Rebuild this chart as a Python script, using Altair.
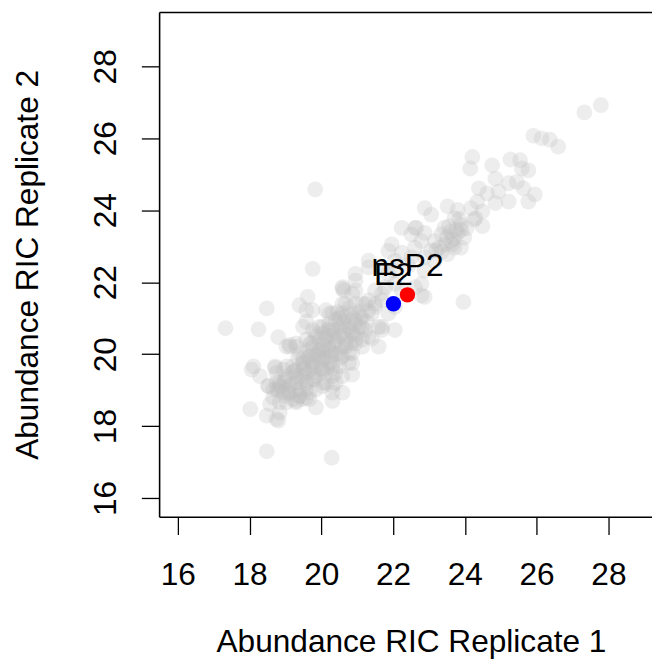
import altair as alt
import pandas as pd

# ---- grey background proteins: (replicate 1, replicate 2) ----
rep1 = [
    # upper right tail
    27.33, 27.79, 25.91, 26.14, 26.37, 26.60, 24.21, 24.15, 24.76, 25.27,
    25.54, 25.59, 25.77, 24.85, 25.22, 25.45, 24.39, 24.62, 24.94, 25.63,
    25.95, 25.77, 25.22, 24.85, 24.49, 24.30, 24.49, 24.35, 24.17, 19.83,
    # arm
    23.52, 23.80, 23.71, 23.89, 23.80, 23.98, 23.61, 23.43, 23.34, 23.16,
    23.29, 23.71, 23.89, 23.52, 23.06, 22.88, 23.16, 22.88, 23.06, 22.65,
    22.88, 22.24, 22.51, 22.79, 22.61, 21.96, 21.87, 22.24, 22.51, 22.42,
    22.05, 21.32, 20.95, 21.69, 22.05, 22.88, 22.79, 22.88, 22.61, 23.96,
    23.60, 23.70, 23.50, 23.90, 24.05, 23.45, 24.26, 22.61,
    23.55, 23.75, 23.65, 23.35, 23.85, 23.20,
    # middle
    21.78, 21.50, 22.05, 22.24, 21.69, 22.05, 21.87, 21.50, 20.59, 20.86,
    19.76, 19.62, 19.39, 19.58, 18.48, 18.25, 17.33, 18.80, 19.03, 19.30,
    # core, first pass
    20.22, 20.40, 20.68, 20.95, 21.14, 20.86, 20.59, 20.31, 20.04, 19.85,
    20.13, 20.40, 20.68, 20.95, 21.14, 20.86, 20.59, 20.31, 20.04, 19.76,
    19.67, 19.94, 20.22, 20.50, 20.77, 19.49, 19.76, 20.04, 20.31, 20.59,
    19.30, 19.49, 19.76, 20.04, 20.31, 19.30, 19.12, 19.58, 19.39, 19.67,
    19.21, 18.94, 18.84, 18.75, 19.03, 18.71, 18.11, 18.06, 18.29, 18.52,
    18.75, 18.66, 18.57, 18.84, 19.03, 19.30, 18.02, 18.48, 18.75, 18.84,
    19.85, 20.31, 20.59, 20.86, 20.31, 18.48, 20.29, 21.32, 20.95, 21.14,
    21.60, 21.69, 22.05, 21.60, 21.32, 20.59, 20.95, 21.32, 21.87, 20.59,
    # core, second pass
    18.84, 19.12, 19.40, 19.67, 19.03, 19.30, 19.58, 19.85, 20.13, 19.21,
    19.49, 19.76, 20.04, 20.31, 19.40, 19.67, 19.95, 20.22, 20.50, 20.77,
    19.58, 19.85, 20.13, 20.40, 20.68, 20.95, 21.14, 19.95, 20.22, 20.50,
    20.77, 21.05, 21.23, 20.31, 20.59, 20.86, 21.14, 21.41, 20.68, 20.95,
    21.23, 21.51, 20.13, 19.76, 19.49, 19.30, 19.12, 18.94, 18.75, 18.66,
    18.94, 19.49, 20.04, 20.40, 20.86,
    # core, third pass
    19.90, 20.08, 20.36, 20.63, 20.91, 20.59, 20.27, 19.72, 19.44, 19.17,
    19.81, 20.45, 20.04, 19.62, 20.17,
    18.98, 19.26, 19.53, 19.81, 20.08, 20.36, 20.63, 20.91, 20.82, 20.54,
    19.99, 19.72, 19.95, 20.22, 20.50, 20.77, 21.05, 21.28, 19.35, 19.07,
    19.40, 19.58, 19.85, 18.80, 20.13,
    # core, fourth pass
    19.00, 19.20, 19.40, 19.50, 19.70, 19.90, 20.00, 20.20, 20.30, 20.50,
    20.60, 20.80, 20.90, 21.00, 20.70, 20.40, 20.10, 19.80, 19.60, 19.30,
    19.10, 18.90, 20.50, 20.20, 21.10, 21.30, 20.00, 19.70, 20.30, 19.50,
    # outer ring
    19.58, 19.76, 18.71, 18.52, 18.80, 19.30, 19.58, 20.40, 21.41, 21.69,
    20.63, 21.69, 22.79, 19.12,
]
rep2 = [
    26.72, 26.92, 26.07, 26.00, 25.96, 25.77, 25.48, 25.16, 25.25, 25.41,
    25.39, 25.16, 25.11, 24.88, 24.75, 24.79, 24.61, 24.47, 24.52, 24.61,
    24.44, 24.24, 24.24, 24.20, 23.97, 23.78, 23.56, 24.24, 24.06, 24.58,
    24.11, 24.01, 23.78, 23.60, 23.37, 23.24, 23.14, 23.51, 23.33, 23.14,
    22.96, 22.96, 22.96, 22.78, 22.87, 22.69, 22.59, 24.06, 23.88, 23.51,
    23.37, 23.51, 23.33, 23.14, 22.96, 23.05, 22.87, 22.82, 22.69, 22.46,
    22.60, 22.60, 22.23, 22.41, 22.32, 22.32, 21.95, 21.59, 21.86, 21.45,
    23.40, 23.20, 23.25, 23.45, 23.50, 23.05, 23.74, 23.51,
    23.55, 23.45, 23.05, 22.85, 23.75, 22.90,
    21.86, 21.77, 21.95, 21.77, 21.50, 21.31, 21.13, 21.31, 21.82, 21.68,
    22.37, 21.59, 21.36, 21.22, 21.27, 20.69, 20.72, 20.47, 20.21, 20.21,
    21.13, 20.95, 21.04, 20.95, 20.76, 20.58, 20.58, 20.67, 20.76, 20.58,
    20.40, 20.31, 20.21, 20.40, 20.21, 20.03, 19.94, 20.03, 20.12, 20.21,
    19.94, 19.85, 19.76, 19.66, 19.76, 19.76, 19.66, 19.57, 19.39, 19.39,
    19.57, 19.39, 19.30, 19.21, 19.12, 19.21, 19.12, 19.02, 18.84, 18.75,
    18.75, 18.93, 19.21, 19.48, 19.66, 19.66, 19.66, 19.57, 19.39, 19.12,
    19.02, 18.79, 18.61, 18.66, 18.66, 18.66, 18.47, 18.29, 18.20, 18.38,
    18.52, 18.70, 18.93, 19.43, 18.93, 17.30, 17.12, 21.50, 21.77, 21.40,
    20.76, 20.67, 20.67, 20.21, 20.49, 21.40, 22.04, 22.41, 22.23, 21.86,
    19.11, 18.93, 19.02, 18.93, 19.39, 19.39, 19.48, 19.39, 19.48, 19.66,
    19.75, 19.75, 19.85, 19.75, 20.03, 20.12, 20.12, 20.12, 20.03, 20.03,
    20.40, 20.49, 20.49, 20.40, 20.40, 20.30, 20.40, 20.76, 20.85, 20.76,
    20.76, 20.76, 20.67, 21.13, 21.13, 21.13, 21.04, 21.13, 21.40, 21.40,
    21.40, 21.40, 21.22, 20.67, 20.76, 20.30, 20.21, 19.57, 19.20, 19.02,
    18.84, 18.75, 19.11, 19.48, 19.75,
    19.94, 20.26, 20.58, 20.90, 20.53, 20.21, 19.94, 19.57, 19.25, 19.16,
    19.30, 21.17, 20.58, 19.89, 19.62,
    19.25, 19.53, 19.62, 19.98, 20.03, 20.26, 20.63, 20.85, 20.30, 19.89,
    19.62, 20.30, 20.40, 20.67, 21.00, 21.27, 21.17, 20.90, 19.89, 19.02,
    18.84, 19.20, 19.02, 18.98, 19.20,
    19.30, 19.50, 19.40, 19.60, 19.80, 20.00, 20.30, 20.20, 20.50, 20.50,
    20.80, 20.70, 21.00, 20.60, 20.30, 20.00, 19.90, 19.50, 19.20, 19.00,
    18.90, 19.10, 21.00, 20.70, 21.00, 21.20, 19.60, 20.30, 19.60, 19.90,
    20.90, 21.22, 19.62, 19.11, 18.15, 18.70, 18.79, 19.20, 20.44, 20.76,
    21.77, 21.68, 21.63, 20.26,
]

# ---- highlighted viral proteins ----
hl_names = ["nsP2", "E2"]
hl_rep1 = [22.40, 22.01]
hl_rep2 = [21.65, 21.40]
hl_colors = ["#FF0000", "#0000FF"]

tick_values = [16, 18, 20, 22, 24, 26, 28]
X_DOMAIN = [15.48, 29.215]
Y_DOMAIN = [15.48, 29.51]
FONT = "Liberation Sans"
FS = 32

bg = pd.DataFrame({"rep1": rep1, "rep2": rep2})
hl = pd.DataFrame({"name": hl_names, "rep1": hl_rep1, "rep2": hl_rep2, "color": hl_colors})

xs = alt.Scale(domain=X_DOMAIN, nice=False, zero=False)
ys = alt.Scale(domain=Y_DOMAIN, nice=False, zero=False)

x_axis = alt.Axis(
    orient="bottom", values=tick_values, grid=False,
    title="Abundance RIC Replicate 1", titleFont=FONT, titleFontSize=FS,
    titleFontWeight="normal", titleColor="black", titleX=255, titleY=136,
    titleBaseline="alphabetic", titleAlign="center",
    labelFont=FONT, labelFontSize=FS, labelColor="black",
    labelBaseline="alphabetic", labelPadding=51, labelFlush=False, labelOverlap=False,
    tickSize=18, tickColor="black", tickWidth=1.3,
    domainColor="black", domainWidth=1.6,
)
x_top = alt.Axis(
    orient="top", labels=False, ticks=False, grid=False, title="",
    domainColor="black", domainWidth=1.6,
)
y_axis = alt.Axis(
    orient="left", values=tick_values, grid=False,
    title="Abundance RIC Replicate 2", titleFont=FONT, titleFontSize=FS,
    titleFontWeight="normal", titleColor="black", titleAngle=270,
    titleX=-123, titleY=255.5, titleBaseline="alphabetic", titleAlign="center",
    labelFont=FONT, labelFontSize=FS, labelColor="black", labelAngle=270,
    labelAlign="center", labelBaseline="alphabetic", labelPadding=26,
    labelFlush=False, labelOverlap=False,
    tickSize=18, tickColor="black", tickWidth=1.3,
    domainColor="black", domainWidth=1.6,
)

grey = alt.Chart(bg).mark_circle(size=255, color="#BEBEBE", opacity=0.28, clip=True).encode(
    x=alt.X("rep1:Q", scale=xs, axis=x_axis),
    y=alt.Y("rep2:Q", scale=ys, axis=y_axis),
)

pts = alt.Chart(hl).mark_circle(size=240, opacity=1, clip=True).encode(
    x=alt.X("rep1:Q", scale=xs, axis=x_top),
    y=alt.Y("rep2:Q", scale=ys, axis=y_axis),
    color=alt.Color("color:N", scale=None),
)

labels = alt.Chart(hl).mark_text(
    font=FONT, fontSize=FS, color="black", dy=-19.5, align="center", baseline="alphabetic"
).encode(
    x=alt.X("rep1:Q", scale=xs, axis=None),
    y=alt.Y("rep2:Q", scale=ys, axis=y_axis),
    text="name:N",
)

chart = alt.layer(grey, pts, labels).resolve_axis(x="independent").properties(
    width=499, height=511,
    autosize=alt.AutoSizeParams(type="none"),
    padding={"left": 153, "top": 0, "right": 0, "bottom": 143},
    background="white",
).configure_view(strokeWidth=0)

chart.save("out.html", embed_options={"renderer": "svg", "actions": False})
